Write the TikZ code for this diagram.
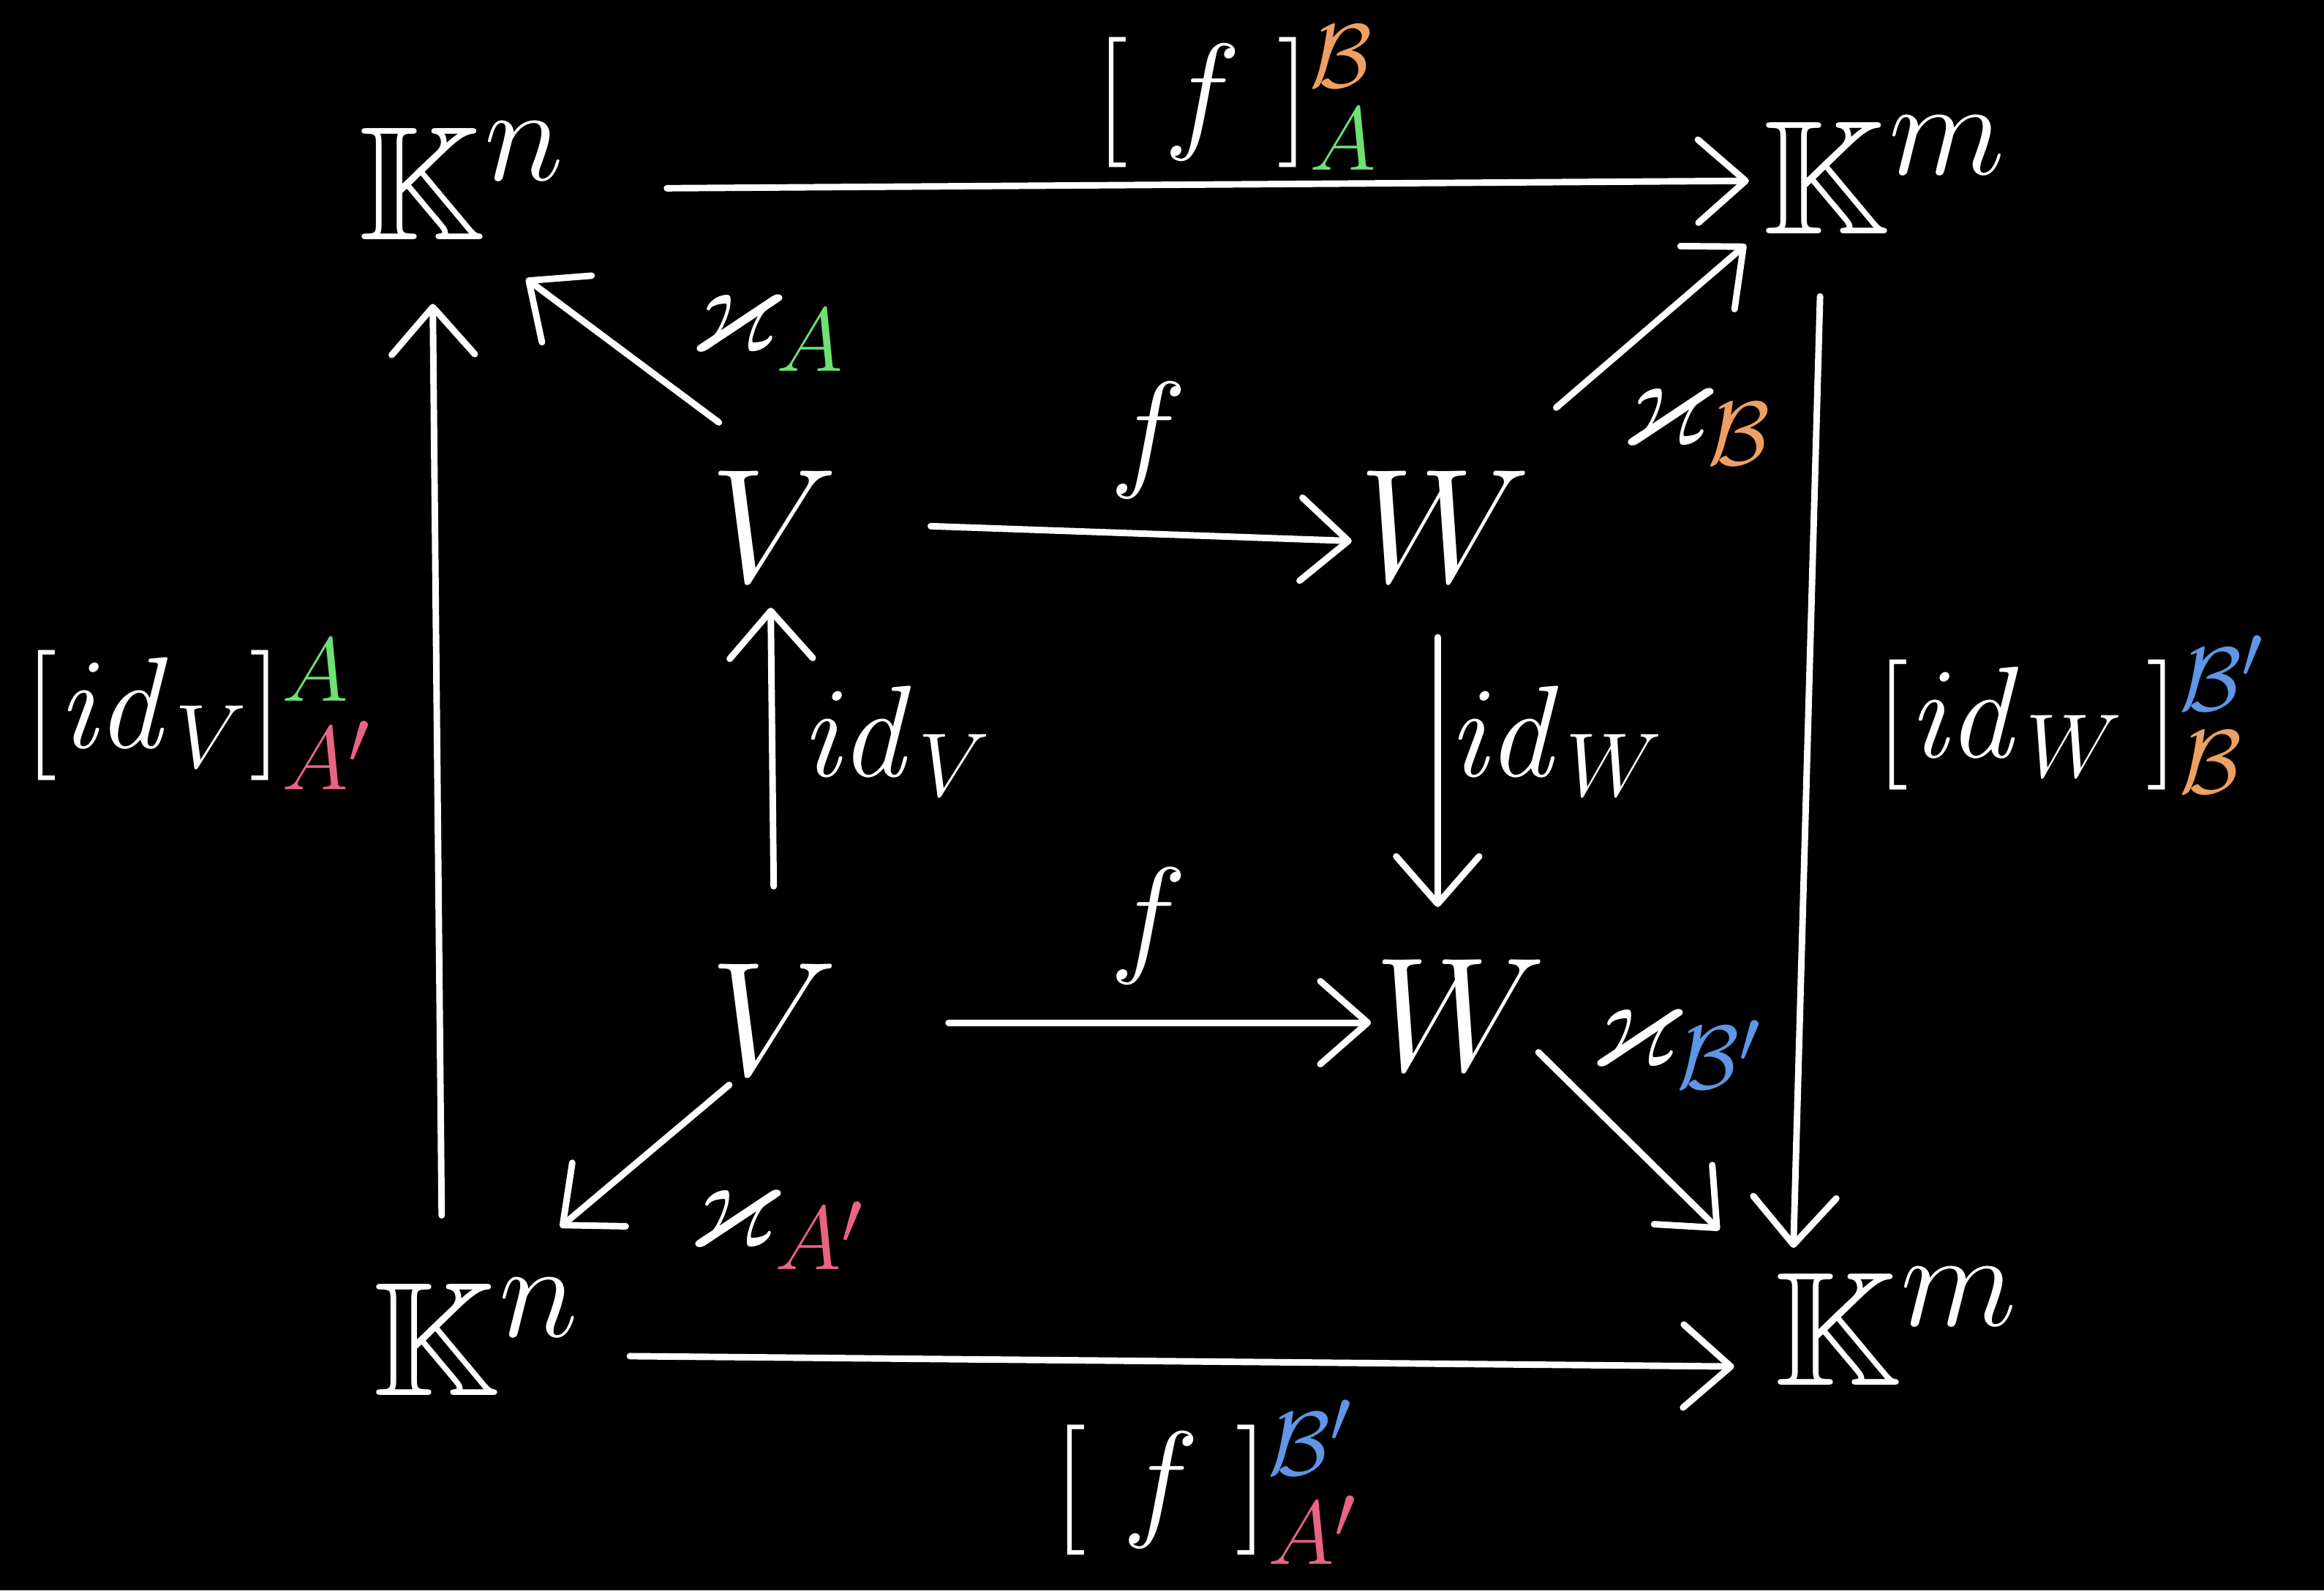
\documentclass[tikz,border=0pt]{standalone}
\usepackage{amssymb}
\usetikzlibrary{arrows.meta}
\definecolor{cgreen}{RGB}{110,225,115}
\definecolor{corange}{RGB}{238,160,100}
\definecolor{cblue}{RGB}{95,150,230}
\definecolor{cred}{RGB}{232,100,130}
\begin{document}
\begin{tikzpicture}[x=0.25pt,y=-0.25pt,
 obj/.style={text=white,inner sep=0pt,font=\Huge,scale=1.1},
 lbl/.style={text=white,inner sep=0pt,font=\huge,scale=1.06},
 arr/.style={draw=white,line width=1.1pt,line cap=round,-{Straight Barb[length=8pt,width=14pt,round]}}]
\fill[black] (0,0) rectangle (1568,1073);
\useasboundingbox (0,0) rectangle (1568,1073);
% objects
\node[obj] (KnT) at (312,122) {$\mathbb{K}^n$};
\node[obj] (KmT) at (1272,118) {$\mathbb{K}^m$};
\node[obj] (KnB) at (322,902) {$\mathbb{K}^n$};
\node[obj] (KmB) at (1280,895) {$\mathbb{K}^m$};
\node[obj] (V1) at (522,355) {$V$};
\node[obj] (V2) at (522,688) {$V$};
\node[obj] (W1) at (975,355) {$W$};
\node[obj] (W2) at (985,685) {$W$};
% arrows
\draw[arr] ([shift={(138,5)}]KnT.center) -- ([shift={(-92,4)}]KmT.center);
\draw[arr] ([shift={(-44,82)}]KmT.center) -- ([shift={(-70,-53)}]KmB.center);
\draw[arr] ([shift={(103,13)}]KnB.center) -- ([shift={(-110,27)}]KmB.center);
\draw[arr] ([shift={(-24,-82)}]KnB.center) -- ([shift={(-20,83)}]KnT.center);
\draw[arr] ([shift={(-37,-70)}]V1.center) -- ([shift={(43,66)}]KnT.center);
\draw[arr] ([shift={(75,-80)}]W1.center) -- ([shift={(-94,47)}]KmT.center);
\draw[arr] ([shift={(-30,44)}]V2.center) -- ([shift={(56,-74)}]KnB.center);
\draw[arr] ([shift={(53,25)}]W2.center) -- ([shift={(-120,-65)}]KmB.center);
\draw[arr] ([shift={(106,0)}]V1.center) -- ([shift={(-63,10)}]W1.center);
\draw[arr] ([shift={(118,2)}]V2.center) -- ([shift={(-60,5)}]W2.center);
\draw[arr] ([shift={(0,-90)}]V2.center) -- ([shift={(-2,55)}]V1.center);
\draw[arr] ([shift={(-5,75)}]W1.center) -- ([shift={(-15,-73)}]W2.center);
% labels
\node[lbl] (lt) at (835,66) {$[\;f\;]^{\textcolor{corange}{\mathcal{B}}}_{\textcolor{cgreen}{A}}$};
\node[lbl] (lb) at (815,1000) {$[\;f\;]^{\textcolor{cblue}{\mathcal{B}'}}_{\textcolor{cred}{A'}}$};
\node[lbl] (ll) at (135,482) {$[\mathit{id}_V]^{\textcolor{cgreen}{A}}_{\textcolor{cred}{A'}}$};
\node[lbl] (lr) at (1398,482) {$[\mathit{id}_W\,]^{\textcolor{cblue}{\mathcal{B}'}}_{\textcolor{corange}{\mathcal{B}}}$};
\node[lbl] (ka) at (518,225) {$\varkappa_{\textcolor{cgreen}{A}}$};
\node[lbl] (kb) at (1145,288) {$\varkappa_{\textcolor{corange}{\mathcal{B}}}$};
\node[lbl] (kap) at (525,830) {$\varkappa_{\textcolor{cred}{A'}}$};
\node[lbl] (kbp) at (1132,708) {$\varkappa_{\textcolor{cblue}{\mathcal{B}'}}$};
\node[lbl] (f1) at (775,297) {$f$};
\node[lbl] (f2) at (775,625) {$f$};
\node[lbl] (idv) at (605,500) {$\mathit{id}_V$};
\node[lbl] (idw) at (1050,500) {$\mathit{id}_W$};
\end{tikzpicture}
\end{document}
